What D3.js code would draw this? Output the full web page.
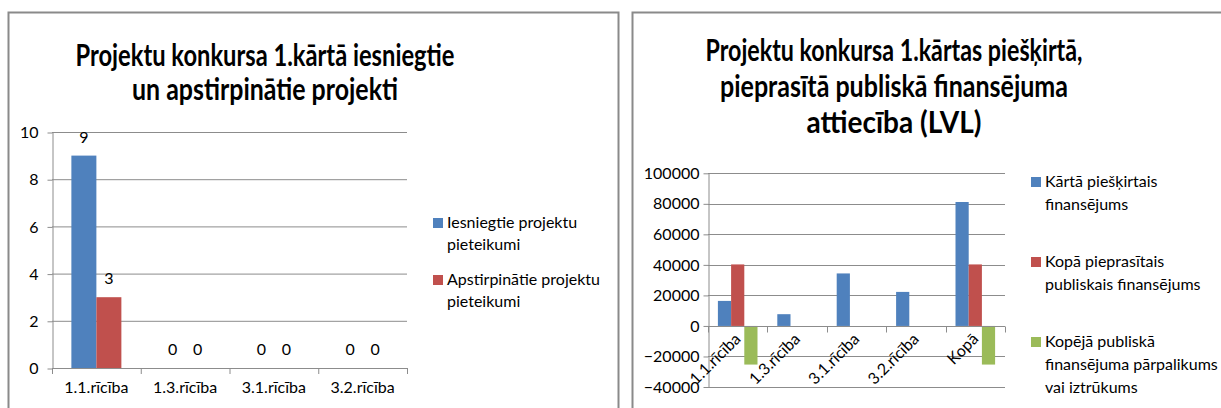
<!DOCTYPE html>
<html>
<head>
<meta charset="utf-8">
<script src="https://cdn.jsdelivr.net/npm/d3@7"></script>
<style>
  body { margin: 0; background: #fff; }
  text { font-family: Lato, "Open Sans", sans-serif; fill: #000; }
</style>
</head>
<body>
<div id="putsvghere"></div>
<script>
var width = 1221;
var height = 408;

// left chart data
var cats1 = ["1.1.rīcība", "1.3.rīcība", "3.1.rīcība", "3.2.rīcība"];
var series1 = ["Iesniegtie projektu pieteikumi", "Apstirpinātie projektu pieteikumi"];
var submitted = [9, 0, 0, 0];
var approved = [3, 0, 0, 0];
var ticks1 = [0, 2, 4, 6, 8, 10];
var title1 = ["Projektu konkursa 1.kārtā iesniegtie", "un apstirpinātie projekti"];

// right chart data
var cats2 = ["1.1.rīcība", "1.3.rīcība", "3.1.rīcība", "3.2.rīcība", "Kopā"];
var series2 = ["Kārtā piešķirtais finansējums", "Kopā pieprasītais publiskais finansējums", "Kopējā publiskā finansējuma pārpalikums vai iztrūkums"];
var granted = [16400, 7700, 34400, 22300, 81200];
var requested = [40300, 0, 0, 0, 40300];
var balance = [-25300, null, null, null, -25300];
var ticks2 = [-40000, -20000, 0, 20000, 40000, 60000, 80000, 100000];
var title2 = ["Projektu konkursa 1.kārtas piešķirtā,", "pieprasītā publiskā finansējuma", "attiecība (LVL)"];

var colors = ["#4F81BD", "#C0504D", "#9BBB59"];
var gridc = "#8c8c8c";
var fs = "16px";

var svg = d3.select("#putsvghere").append("svg")
    .attr("width", width).attr("height", height);
svg.append("rect").attr("width", width).attr("height", height).attr("fill", "#fff");

// chart frames (bottom is cut off in the picture)
svg.append("rect").attr("x", 8.5).attr("y", 12.5).attr("width", 610).attr("height", 430)
    .attr("fill", "none").attr("stroke", "#8a8a8a").attr("stroke-width", 2);
svg.append("rect").attr("x", 632.5).attr("y", 12.5).attr("width", 620).attr("height", 430)
    .attr("fill", "none").attr("stroke", "#8a8a8a").attr("stroke-width", 2);

function drawTitle(lines, cx, y0, step, lens) {
    lines.forEach(function(t, i) {
        svg.append("text")
            .attr("x", cx).attr("y", y0 + i * step)
            .attr("text-anchor", "middle")
            .style("font-size", "30px").style("font-weight", "bold")
            .attr("textLength", lens[i]).attr("lengthAdjust", "spacingAndGlyphs")
            .text(t);
    });
}

function legend(names, x, ys, lineh) {
    names.forEach(function(n, i) {
        svg.append("rect").attr("x", x).attr("y", ys[i].y - 10)
            .attr("width", 10).attr("height", 10).attr("fill", colors[i]);
        ys[i].lines.forEach(function(l, j) {
            svg.append("text").attr("x", x + 14).attr("y", ys[i].y + j * lineh)
                .style("font-size", fs).text(l);
        });
    });
}

// ---------- left chart ----------
drawTitle(title1, 265, 66, 34, [379, 266]);

var x1 = d3.scaleBand().domain(cats1).range([52, 407]);
var xs1 = d3.scaleBand().domain([0, 1]).range([0, x1.bandwidth()]).paddingOuter(0.775);
var y1 = d3.scaleLinear().domain([0, 10]).range([368, 132]);

var g1 = svg.append("g");
g1.selectAll(".grid").data(ticks1.filter(d => d > 0)).enter().append("line")
    .attr("x1", 52).attr("x2", 407)
    .attr("y1", d => y1(d) + 0.5).attr("y2", d => y1(d) + 0.5)
    .attr("stroke", gridc).attr("stroke-width", 1);

var yax1 = g1.append("g").attr("transform", "translate(52.5,0.5)")
    .call(d3.axisLeft(y1).tickValues(ticks1).tickSize(5).tickPadding(9).tickSizeOuter(0));
yax1.selectAll("text").style("font-size", fs).attr("fill", "#000");
yax1.selectAll("line,path").attr("stroke", gridc);

var vals1 = [submitted, approved];
vals1.forEach(function(arr, s) {
    g1.selectAll(".bar" + s).data(cats1).enter().append("rect")
        .attr("x", d => x1(d) + xs1(s))
        .attr("width", xs1.bandwidth())
        .attr("y", (d, i) => y1(arr[i]))
        .attr("height", (d, i) => y1(0) - y1(arr[i]))
        .attr("fill", colors[s]);
    g1.selectAll(".lab" + s).data(cats1).enter().append("text")
        .attr("x", d => x1(d) + xs1(s) + xs1.bandwidth() / 2)
        .attr("y", (d, i) => y1(arr[i]) - 13)
        .attr("text-anchor", "middle").style("font-size", fs)
        .text((d, i) => arr[i]);
});

// x axis with ticks between categories
var b1 = cats1.map(d => x1(d)).concat([407]);
g1.append("line").attr("x1", 52).attr("x2", 407).attr("y1", 368.5).attr("y2", 368.5).attr("stroke", gridc);
g1.selectAll(".xt").data(b1).enter().append("line")
    .attr("x1", d => d + 0.5).attr("x2", d => d + 0.5).attr("y1", 368).attr("y2", 374)
    .attr("stroke", gridc);
g1.selectAll(".xl").data(cats1).enter().append("text")
    .attr("x", d => x1(d) + x1.bandwidth() / 2).attr("y", 393)
    .attr("text-anchor", "middle").style("font-size", fs).text(d => d);

legend(series1, 433, [
    {y: 228, lines: ["Iesniegtie projektu", "pieteikumi"]},
    {y: 285, lines: ["Apstirpinātie projektu", "pieteikumi"]}
], 22);

// ---------- right chart ----------
drawTitle(title2, 894, 61, 36, [377, 348, 175]);

var x2 = d3.scaleBand().domain(cats2).range([708, 1005]);
var xs2 = d3.scaleBand().domain([0, 1, 2]).range([0, x2.bandwidth()]).paddingOuter(0.75);
var y2 = d3.scaleLinear().domain([-40000, 100000]).range([387, 173.3]);

var g2 = svg.append("g");
g2.selectAll(".grid").data(ticks2.filter(d => d != 0)).enter().append("line")
    .attr("x1", 708).attr("x2", 1005)
    .attr("y1", d => Math.round(y2(d)) + 0.5).attr("y2", d => Math.round(y2(d)) + 0.5)
    .attr("stroke", gridc);

var yax2 = g2.append("g").attr("transform", "translate(708.5,0)")
    .call(d3.axisLeft(y2).tickValues(ticks2).tickSize(5).tickPadding(4).tickSizeOuter(0).tickFormat(d3.format("d")));
yax2.selectAll("text").style("font-size", fs).attr("fill", "#000");
yax2.selectAll("line,path").attr("stroke", gridc);

var vals2 = [granted, requested, balance];
vals2.forEach(function(arr, s) {
    var idx = cats2.map((d, i) => i).filter(i => arr[i] != null && arr[i] != 0);
    g2.selectAll(".bar" + s).data(idx).enter().append("rect")
        .attr("x", i => x2(cats2[i]) + xs2(s))
        .attr("width", xs2.bandwidth())
        .attr("y", i => y2(Math.max(0, arr[i])))
        .attr("height", i => Math.abs(y2(arr[i]) - y2(0)))
        .attr("fill", colors[s]);
});

var zero2 = Math.round(y2(0)) + 0.5;
var b2 = cats2.map(d => x2(d)).concat([1005]);
g2.append("line").attr("x1", 708).attr("x2", 1005).attr("y1", zero2).attr("y2", zero2).attr("stroke", gridc);
g2.selectAll(".xt").data(b2).enter().append("line")
    .attr("x1", d => Math.round(d) + 0.5).attr("x2", d => Math.round(d) + 0.5)
    .attr("y1", zero2).attr("y2", zero2 + 6).attr("stroke", gridc);
g2.selectAll(".xl").data(cats2).enter().append("text")
    .attr("text-anchor", "end").style("font-size", fs)
    .attr("transform", d => "translate(" + (x2(d) + x2.bandwidth() / 2 + 4) + "," + 340 + ") rotate(-45)")
    .text(d => d);

legend(series2, 1031, [
    {y: 187, lines: ["Kārtā piešķirtais", "finansējums"]},
    {y: 267, lines: ["Kopā pieprasītais", "publiskais finansējums"]},
    {y: 347, lines: ["Kopējā publiskā", "finansējuma pārpalikums", "vai iztrūkums"]}
], 23);
</script>
</body>
</html>
